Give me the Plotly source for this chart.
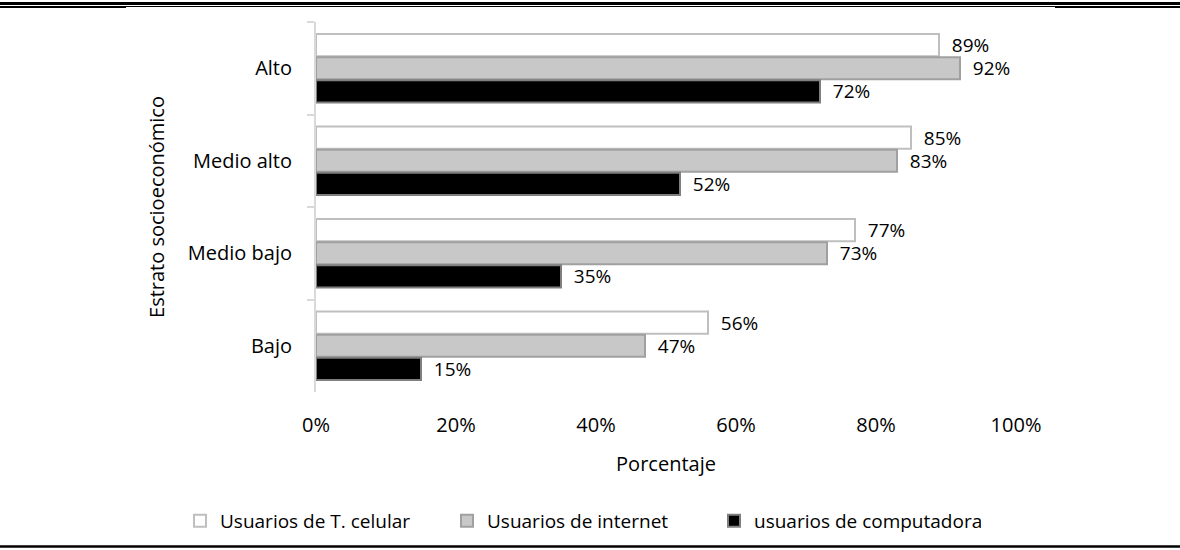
import plotly.graph_objects as go

# Datos
estratos = ["Alto", "Medio alto", "Medio bajo", "Bajo"]
celular = [0.89, 0.85, 0.77, 0.56]
internet = [0.92, 0.83, 0.73, 0.47]
computadora = [0.72, 0.52, 0.35, 0.15]

series = [
    ("Usuarios de T. celular", celular, "#ffffff", "#bfbfbf"),
    ("Usuarios de internet", internet, "#c8c8c8", "#a0a0a0"),
    ("usuarios de computadora", computadora, "#000000", "#7f7f7f"),
]

FONT = "Open Sans"
NBSP = "\u00a0"

fig = go.Figure()

for name, vals, fill, line in series:
    fig.add_trace(go.Bar(
        name=name,
        y=estratos,
        x=vals,
        orientation='h',
        marker=dict(color=fill, line=dict(color=line, width=2)),
        text=[f"{NBSP * 2}{v * 100:.0f}%" for v in vals],
        textposition='outside',
        constraintext='none',
        textfont=dict(size=19, color='#000000', family=FONT),
        cliponaxis=False,
    ))

# Bordes tipo tabla (arriba doble, abajo simple)
L, T, B = 316, 22, 392
W, H = 700, B - T


def px(x):
    return (x - L) / W


def py(y):
    return (B - y) / H


shapes = [
    dict(type='line', xref='paper', yref='paper', x0=px(0), x1=px(1180),
         y0=py(3.5), y1=py(3.5), line=dict(color='black', width=3)),
    dict(type='line', xref='paper', yref='paper', x0=px(0), x1=px(1180),
         y0=py(6.5), y1=py(6.5), line=dict(color='black', width=1)),
    dict(type='line', xref='paper', yref='paper', x0=px(0), x1=px(126),
         y0=py(7), y1=py(7), line=dict(color='black', width=2)),
    dict(type='line', xref='paper', yref='paper', x0=px(1055), x1=px(1180),
         y0=py(7), y1=py(7), line=dict(color='black', width=2)),
    dict(type='line', xref='paper', yref='paper', x0=px(0), x1=px(1180),
         y0=py(546.5), y1=py(546.5), line=dict(color='black', width=2.5)),
]

fig.update_layout(
    width=1180,
    height=550,
    barmode='group',
    bargap=0.25,
    bargroupgap=0.04,
    plot_bgcolor='white',
    paper_bgcolor='white',
    font=dict(family=FONT, size=20, color='#000000'),
    margin=dict(l=L, r=1180 - L - W, t=T, b=550 - B, autoexpand=False),
    showlegend=True,
    legend=dict(orientation='h', xanchor='left', x=px(180), yanchor='middle', y=py(521),
                font=dict(size=19), entrywidth=222, tracegroupgap=0),
    xaxis=dict(range=[0, 1], tickformat='.0%', dtick=0.2, showgrid=False, zeroline=False,
               showline=False, ticks='', tickfont=dict(size=20), automargin=False,
               ticklabelstandoff=19,
               title=dict(text='Porcentaje', font=dict(size=20), standoff=19)),
    yaxis=dict(autorange='reversed', showline=True, linecolor='#d9d9d9', linewidth=2,
               ticks='outside', tickson='boundaries', ticklen=7, tickcolor='#d9d9d9',
               tickwidth=2, ticklabelstandoff=18, tickfont=dict(size=20), automargin=False,
               title=dict(text='Estrato socioeconómico', font=dict(size=20), standoff=18)),
    shapes=shapes,
)

fig.write_html("out.html", config={'displayModeBar': False},
               post_script="document.body.style.margin = '0px';")
